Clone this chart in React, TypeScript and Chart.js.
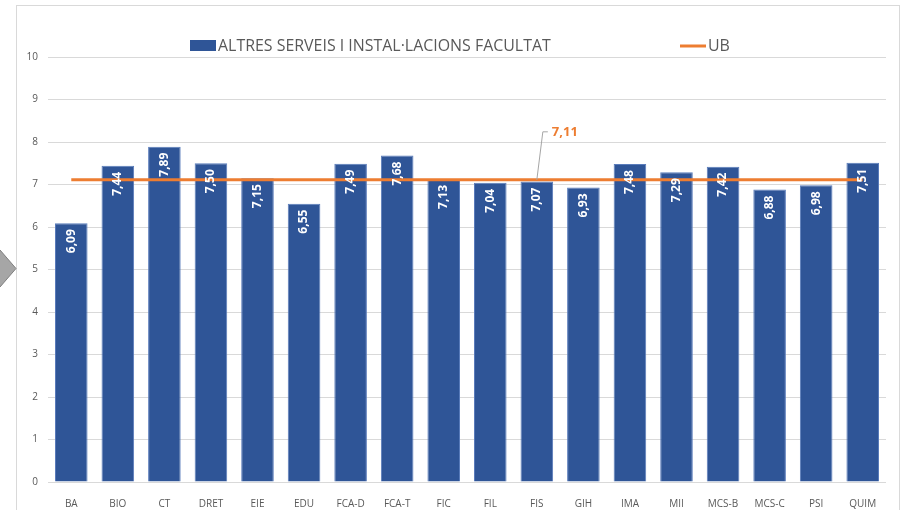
import React, { useEffect, useRef } from "react";
import { Chart, registerables } from "chart.js";

Chart.register(...registerables);

const categories = ["BA", "BIO", "CT", "DRET", "EIE", "EDU", "FCA-D", "FCA-T", "FIC", "FIL", "FIS", "GIH", "IMA", "MII", "MCS-B", "MCS-C", "PSI", "QUIM"];
const facultyValues = [6.09, 7.44, 7.89, 7.5, 7.15, 6.55, 7.49, 7.68, 7.13, 7.04, 7.07, 6.93, 7.48, 7.29, 7.42, 6.88, 6.98, 7.51];
const ubValues = [7.11, 7.11, 7.11, 7.11, 7.11, 7.11, 7.11, 7.11, 7.11, 7.11, 7.11, 7.11, 7.11, 7.11, 7.11, 7.11, 7.11, 7.11];
const seriesNames = ["ALTRES SERVEIS I INSTAL·LACIONS FACULTAT", "UB"];
const ubLabelIndex = 10;
const yMin = 0;
const yMax = 10;
const yStep = 1;

const BLUE = "#2f5597";
const ORANGE = "#ed7d31";
const TEXT = "#595959";
const FONT = "'Open Sans', 'Noto Sans', sans-serif";

const fmt = (v: number) => v.toFixed(2).replace(".", ",");

const framePlugin = {
  id: "frame",
  beforeDraw(chart: any) {
    const ctx = chart.ctx;
    ctx.save();
    ctx.fillStyle = "#ffffff";
    ctx.fillRect(0, 0, chart.width, chart.height);
    ctx.strokeStyle = "#d9d9d9";
    ctx.lineWidth = 1;
    ctx.strokeRect(16.5, 5.5, 883, 520);
    // grey arrow at the left edge
    ctx.beginPath();
    ctx.moveTo(-10, 240);
    ctx.lineTo(0, 250);
    ctx.lineTo(16, 268.5);
    ctx.lineTo(0, 287);
    ctx.lineTo(-10, 297);
    ctx.closePath();
    ctx.fillStyle = "#a6a6a6";
    ctx.fill();
    ctx.strokeStyle = "#7f7f7f";
    ctx.stroke();
    ctx.restore();
  },
};

const labelsPlugin = {
  id: "labels",
  afterDatasetsDraw(chart: any) {
    const ctx = chart.ctx;
    const meta = chart.getDatasetMeta(0);
    ctx.save();
    ctx.fillStyle = "#ffffff";
    ctx.font = `bold 12px ${FONT}`;
    meta.data.forEach((bar: any, i: number) => {
      ctx.save();
      ctx.translate(bar.x, bar.y + 6);
      ctx.rotate(-Math.PI / 2);
      ctx.textAlign = "right";
      ctx.textBaseline = "middle";
      ctx.fillText(fmt(facultyValues[i]), 0, 0);
      ctx.restore();
    });
    // UB label with leader line
    const lineMeta = chart.getDatasetMeta(1);
    const pt = lineMeta.data[ubLabelIndex];
    const x0 = pt.x;
    const y0 = pt.y;
    ctx.strokeStyle = "#a6a6a6";
    ctx.lineWidth = 1;
    ctx.beginPath();
    ctx.moveTo(x0, y0);
    ctx.lineTo(x0 + 6, y0 - 48);
    ctx.lineTo(x0 + 11, y0 - 48);
    ctx.stroke();
    ctx.fillStyle = ORANGE;
    ctx.font = `bold 13px ${FONT}`;
    ctx.textAlign = "left";
    ctx.textBaseline = "middle";
    ctx.fillText(fmt(ubValues[ubLabelIndex]), x0 + 15, y0 - 48);
    ctx.restore();
  },
  afterDraw(chart: any) {
    const ctx = chart.ctx;
    ctx.save();
    // legend
    ctx.fillStyle = BLUE;
    ctx.fillRect(190, 40, 26, 11);
    let size = 15;
    ctx.font = `${size}px ${FONT}`;
    const w = ctx.measureText(seriesNames[0]).width;
    size = (15 * 333) / w;
    ctx.font = `${size}px ${FONT}`;
    ctx.fillStyle = TEXT;
    ctx.textAlign = "left";
    ctx.textBaseline = "middle";
    ctx.fillText(seriesNames[0], 218, 46);
    ctx.strokeStyle = ORANGE;
    ctx.lineWidth = 3;
    ctx.beginPath();
    ctx.moveTo(680, 46);
    ctx.lineTo(706, 46);
    ctx.stroke();
    ctx.fillStyle = TEXT;
    ctx.fillText(seriesNames[1], 708, 46);
    ctx.restore();
  },
};

export default function App() {
  const ref = useRef<HTMLCanvasElement | null>(null);
  useEffect(() => {
    if (!ref.current) return;
    const chart = new Chart(ref.current, {
      type: "bar",
      data: {
        labels: categories,
        datasets: [
          {
            type: "bar",
            label: seriesNames[0],
            data: facultyValues,
            backgroundColor: BLUE,
            borderColor: "#5a7cbb",
            borderWidth: 1,
            barPercentage: 0.7,
            categoryPercentage: 1,
            order: 2,
          },
          {
            type: "line",
            label: seriesNames[1],
            data: ubValues,
            borderColor: ORANGE,
            borderWidth: 3,
            pointRadius: 0,
            order: 1,
          } as any,
        ],
      },
      options: {
        animation: false,
        responsive: false,
        layout: { padding: { top: 57, left: 0, right: 24, bottom: 0 } },
        plugins: { legend: { display: false }, tooltip: { enabled: false } },
        scales: {
          x: {
            grid: { display: false },
            border: { display: false },
            ticks: { color: TEXT, font: { family: FONT, size: 10 }, padding: 8, maxRotation: 0, autoSkip: false },
            afterFit: (s: any) => {
              s.height = 28;
            },
          },
          y: {
            min: yMin,
            max: yMax,
            grid: { color: "#d9d9d9", drawTicks: false },
            border: { display: false },
            ticks: { stepSize: yStep, color: TEXT, font: { family: FONT, size: 10 }, padding: 10 },
            afterFit: (s: any) => {
              s.width = 48;
            },
          },
        },
      },
      plugins: [framePlugin, labelsPlugin],
    });
    return () => chart.destroy();
  }, []);
  return (
    <div style={{ position: "fixed", left: 0, top: 0, width: 910, height: 510, background: "#fff" }}>
      <canvas ref={ref} width={910} height={510} style={{ width: 910, height: 510, display: "block" }} />
    </div>
  );
}
